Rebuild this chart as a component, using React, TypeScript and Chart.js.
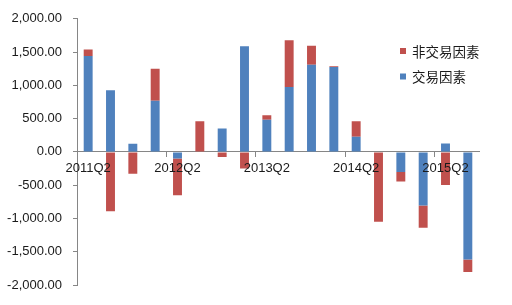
import React, { useEffect, useRef } from "react";
import { Chart, registerables } from "chart.js";

Chart.register(...registerables);

const quarters = [
  "2011Q2", "2011Q3", "2011Q4", "2012Q1", "2012Q2", "2012Q3", "2012Q4", "2013Q1", "2013Q2",
  "2013Q3", "2013Q4", "2014Q1", "2014Q2", "2014Q3", "2014Q4", "2015Q1", "2015Q2", "2015Q3",
];
const tradeValues = [1440, 927, 121, 770, -100, 0, 351, 1587, 484, 977, 1311, 1277, 229, 0, -303, -804, 125, -1616];
const nonTradeValues = [100, -890, -327, 480, -550, 460, -75, -250, 65, 700, 285, 10, 230, -1050, -140, -335, -499, -190];
const seriesNames = ["交易因素", "非交易因素"];
const yTicks = { min: -2000, max: 2000, step: 500 };

const BLUE = "#4F81BD";
const RED = "#C0504D";
const AXIS = "#868686";
const TEXT = "#1a1a1a";

const legendPlugin = {
  id: "customLegend",
  afterDraw(chart: any) {
    const ctx = chart.ctx;
    const items = [
      { label: seriesNames[1], color: RED, y: 51.5 },
      { label: seriesNames[0], color: BLUE, y: 77 },
    ];
    ctx.save();
    ctx.font = '13.5px "Noto Sans CJK SC", sans-serif';
    ctx.textBaseline = "middle";
    ctx.textAlign = "left";
    items.forEach((it) => {
      ctx.fillStyle = it.color;
      ctx.fillRect(400, it.y - 3.5, 6, 6);
      ctx.fillStyle = TEXT;
      ctx.fillText(it.label, 412, it.y);
    });
    ctx.restore();
  },
};

export default function App() {
  const ref = useRef<HTMLCanvasElement>(null);
  useEffect(() => {
    if (!ref.current) return;
    const chart = new Chart(ref.current, {
      type: "bar",
      data: {
        labels: quarters,
        datasets: [
          { label: seriesNames[0], data: tradeValues, backgroundColor: BLUE, categoryPercentage: 1, barPercentage: 0.4 },
          { label: seriesNames[1], data: nonTradeValues, backgroundColor: RED, categoryPercentage: 1, barPercentage: 0.4 },
        ],
      },
      options: {
        responsive: false,
        animation: false,
        layout: { padding: { left: 0, right: 33, top: 14, bottom: 20 } },
        plugins: { legend: { display: false }, tooltip: { enabled: false } },
        scales: {
          x: {
            stacked: true,
            position: { y: 0 } as any,
            afterFit: (s: any) => { s.height = 0; },
            border: { display: true, color: AXIS, width: 1 },
            grid: {
              offset: true,
              drawOnChartArea: false,
              drawTicks: true,
              tickLength: 5,
              color: (c: any) => (c.index % 4 === 0 && c.index > 0 && c.index < quarters.length ? AXIS : "rgba(0,0,0,0)"),
            },
            ticks: {
              z: 1,
              autoSkip: false,
              maxRotation: 0,
              padding: 4,
              color: TEXT,
              font: { family: '"Liberation Sans", sans-serif', size: 13 },
              callback: (v: any, i: number) => (i % 4 === 0 ? quarters[i] : ""),
            },
          },
          y: {
            stacked: true,
            min: yTicks.min,
            max: yTicks.max,
            afterFit: (s: any) => { s.width = 77; },
            border: { display: true, color: AXIS, width: 1 },
            grid: { drawOnChartArea: false, drawTicks: true, tickLength: 4, color: AXIS },
            ticks: {
              stepSize: yTicks.step,
              padding: 11,
              color: TEXT,
              font: { family: '"Liberation Sans", sans-serif', size: 13 },
              callback: (v: any) =>
                Number(v).toLocaleString("en-US", { minimumFractionDigits: 2, maximumFractionDigits: 2 }),
            },
          },
        },
      },
      plugins: [legendPlugin],
    });
    return () => chart.destroy();
  }, []);
  return (
    <div style={{ position: "absolute", left: 0, top: 0, width: 512, height: 305, background: "#fff" }}>
      <canvas ref={ref} width={512} height={305} />
    </div>
  );
}
